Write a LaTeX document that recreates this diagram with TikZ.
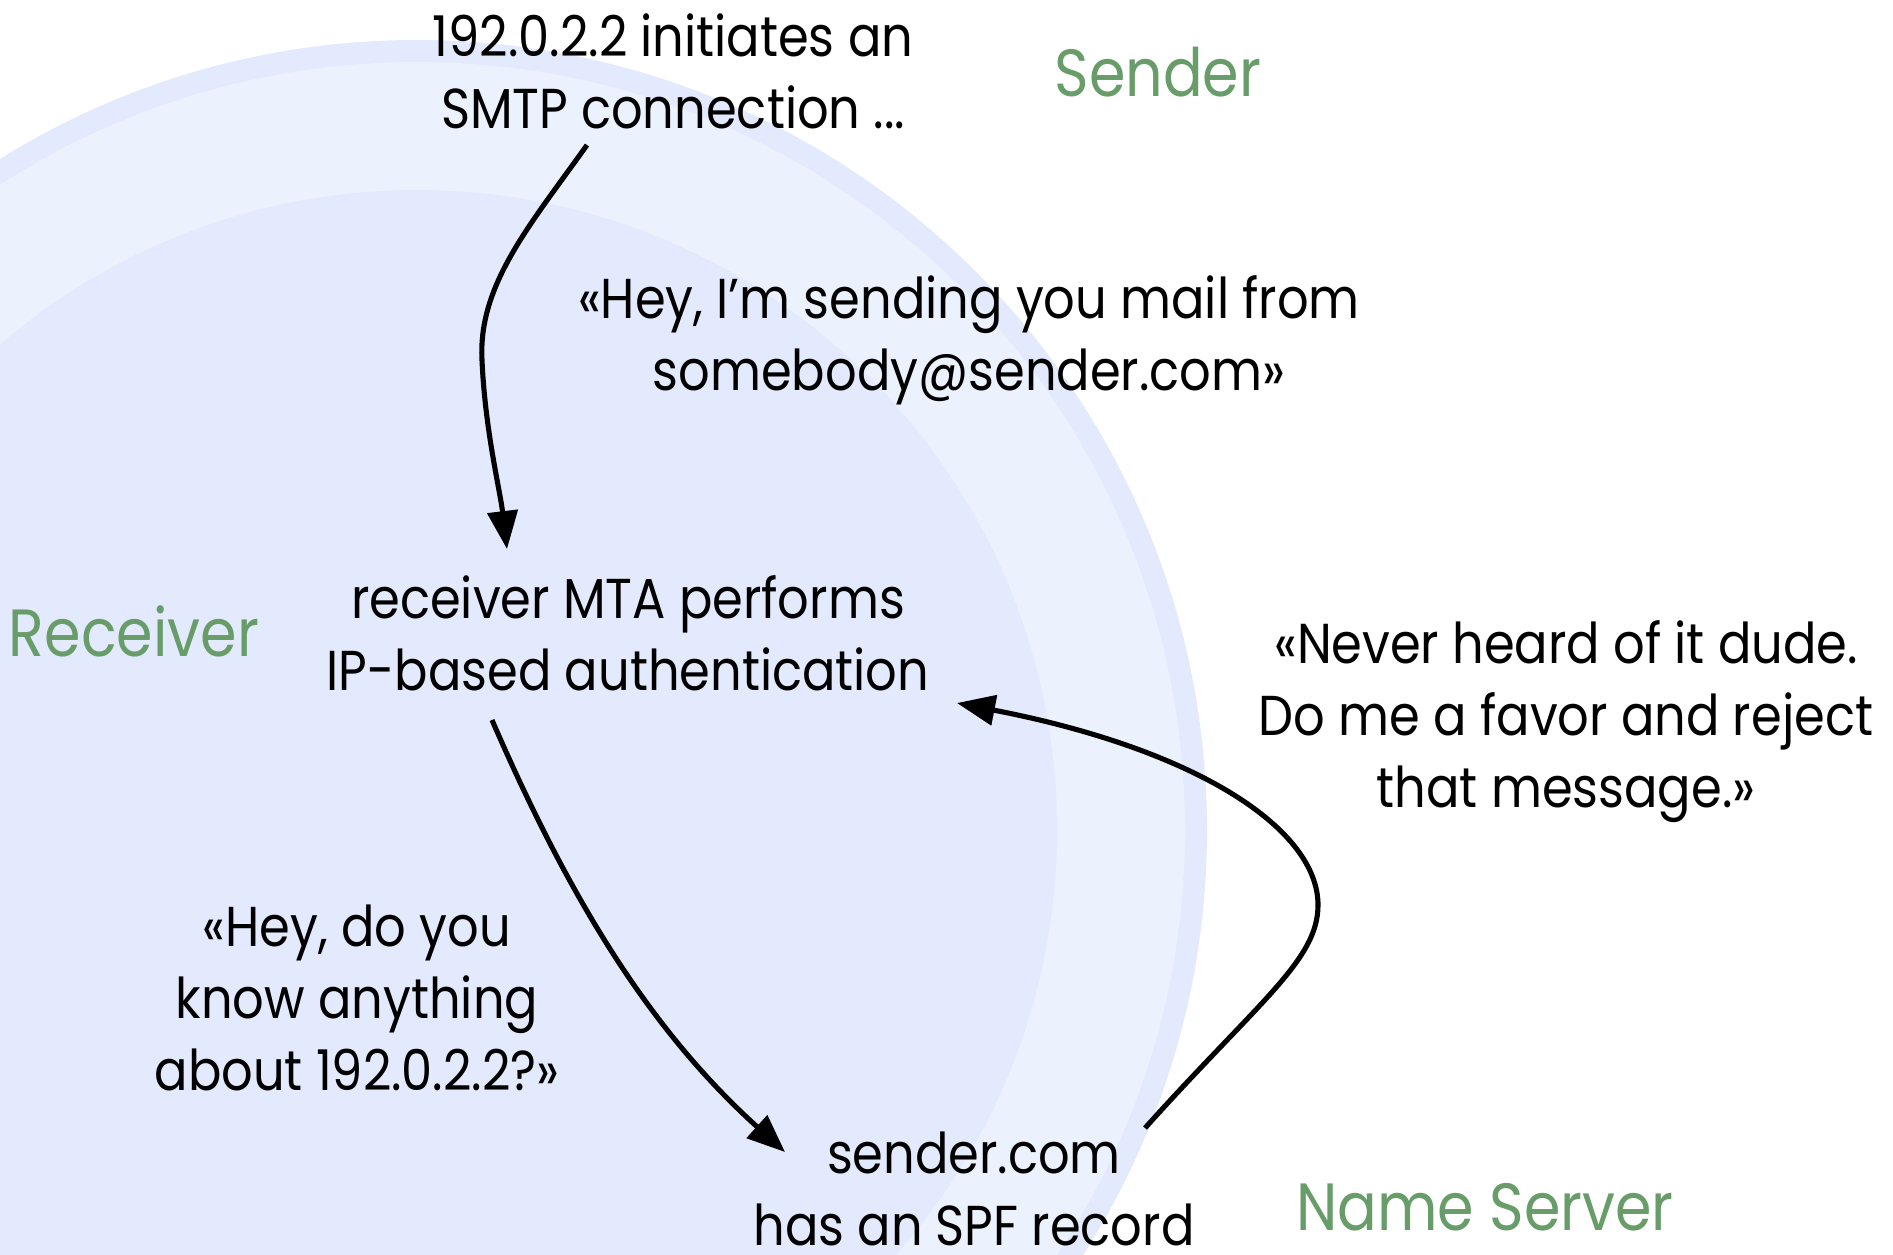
\documentclass[tikz,border=0pt]{standalone}
\usepackage{fontspec}
\setmainfont{Poppins}[FakeStretch=0.88]
\usetikzlibrary{arrows.meta}
\tikzset{>={Triangle[length=3.8mm,width=3mm]}}
\definecolor{myrim}{RGB}{228,234,253}
\definecolor{myband}{RGB}{236,241,254}
\definecolor{mygreen}{RGB}{104,157,106}

\begin{document}
\begin{tikzpicture}[x=0.1mm,y=-0.1mm,
  txt/.style={align=center,font=\fontsize{16}{20.5}\selectfont},
  party/.style={text=mygreen,font=\fontsize{19}{23}\selectfont},
  flow/.style={->,line width=1.45pt}]

  % canvas
  \useasboundingbox (0,0) rectangle (1893,1254);
  \clip (0,0) rectangle (1893,1254);

  % rings
  \fill[myrim] (417,830) circle[radius=790];
  \fill[myband] (417,830) circle[radius=768];
  \fill[myrim] (417,830) circle[radius=640];

  % parties
  \node[party] (sender) at (1158,72) {Sender};
  \node[party] (receiver) at (134,631) {Receiver};
  \node[party] (nameserver) at (1485,1207) {Name Server};

  % messages
  \node[txt] (smtp) at (673,71) {192.0.2.2 initiates an\\SMTP connection ...};
  \node[txt] (hey) at (969,340) {«Hey, I'm sending you mail from\\somebody@sender.com»};
  \node[txt] (mta) at (628,633) {receiver MTA performs\\IP-based authentication};
  \node[txt] (query) at (357,998) {«Hey, do you\\know anything\\about 192.0.2.2?»};
  \node[txt] (spf) at (974,1189) {sender.com\\has an SPF record};
  \node[txt] (reply) at (1566,722) {«Never heard of it dude.\\Do me a favor and reject\\that message.»};

  % arrows
  \draw[flow] ([shift={(-86,74)}]smtp.center)
    .. controls (530,225) and (478,285) .. (482,360)
    .. controls (485,430) and (500,490) .. ([shift={(-121,-84)}]mta.center);
  \draw[flow] ([shift={(-136,87)}]mta.center)
    .. controls (570,900) and (650,1030) .. ([shift={(-189,-37)}]spf.center);
  \draw[flow] ([shift={(171,-61)}]spf.center)
    .. controls (1260,1000) and (1318,960) .. (1318,905)
    .. controls (1318,830) and (1200,750) .. ([shift={(329,70)}]mta.center);

\end{tikzpicture}
\end{document}
